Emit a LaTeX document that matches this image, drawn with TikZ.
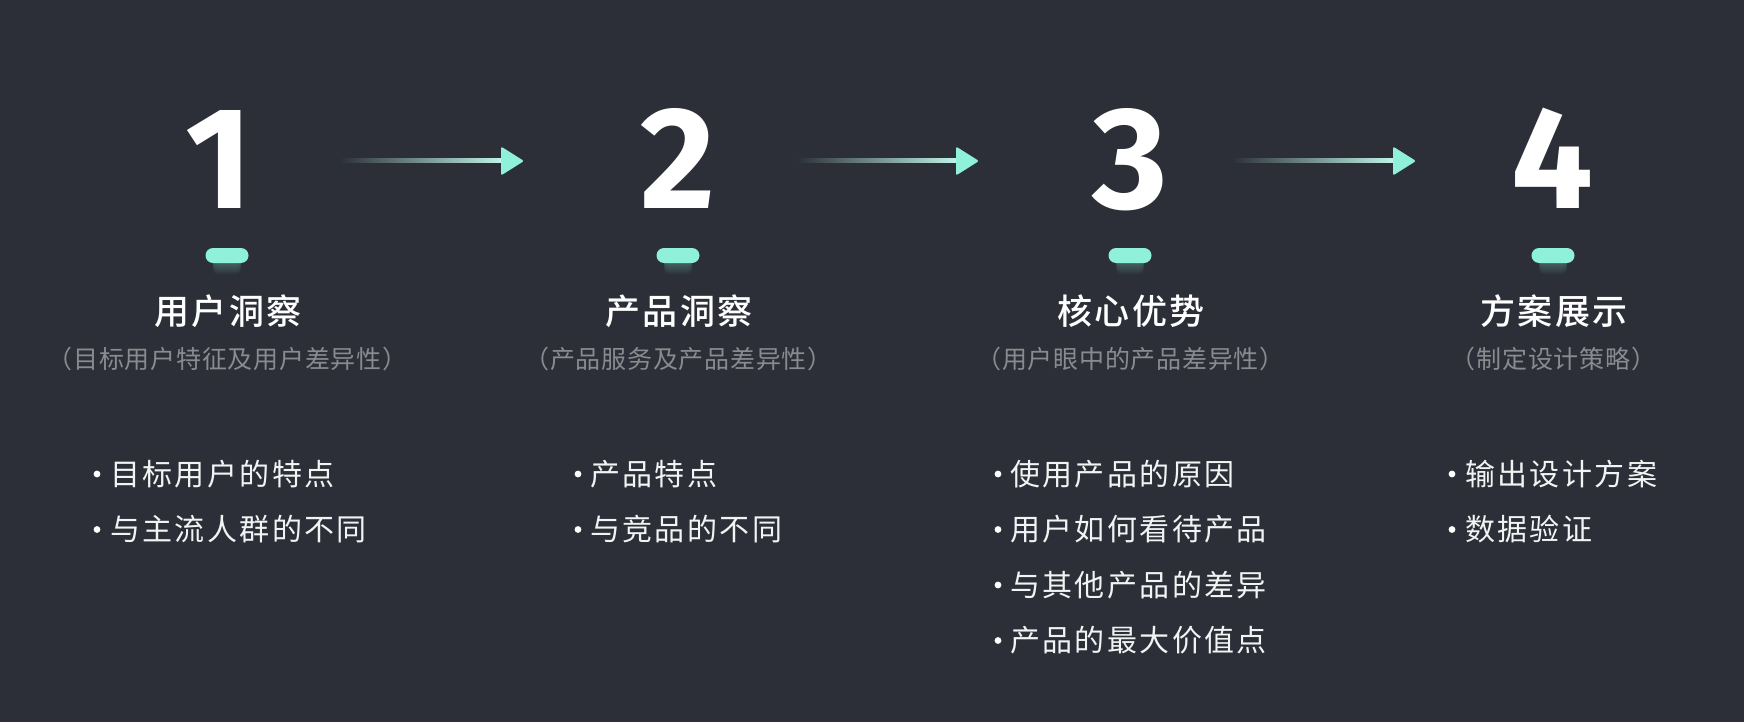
\documentclass[tikz,border=0pt]{standalone}
\usepackage{fontspec}
\usepackage{tikz}
\usetikzlibrary{calc}
\newfontfamily\cjkhead{Noto Sans CJK SC Medium}[LetterSpace=6]
\newfontfamily\cjksub{Noto Sans CJK SC}[LetterSpace=3]
\newfontfamily\cjkitem{Noto Sans CJK SC}[LetterSpace=8]
\newfontfamily\numfont{Fira Sans}
\definecolor{bgdark}{RGB}{44,47,55}
\definecolor{mint}{RGB}{143,240,219}
\definecolor{subgray}{RGB}{138,139,144}
\definecolor{fadegray}{RGB}{150,158,160}

\begin{document}
\begin{tikzpicture}[x=1pt, y=-1pt,
  num/.style={font=\numfont\bfseries\fontsize{145}{145}\selectfont, text=white, inner sep=0pt, anchor=base},
  head/.style={font=\cjkhead\fontsize{35}{35}\selectfont, text=white, inner sep=0pt},
  sub/.style={font=\cjksub\fontsize{25}{25}\selectfont, text=subgray, inner sep=0pt},
  item/.style={font=\cjkitem\fontsize{30}{30}\selectfont, text=white!94!bgdark, inner sep=0pt, anchor=west, text height=25.5pt, text depth=3pt},
  pillbar/.style={fill=mint, rounded corners=7.5pt, minimum width=43pt, minimum height=15pt, inner sep=0pt}]
  \fill[bgdark] (0,0) rectangle (1744,722);
  \foreach \d/\x/\dx/\h/\s in {1/227/-8/用户洞察/（目标用户特征及用户差异性）,
                              2/678/0/产品洞察/（产品服务及产品差异性）,
                              3/1130/0/核心优势/（用户眼中的产品差异性）,
                              4/1553/-1/方案展示/（制定设计策略）} {
    \node[num] (n\d) at (\x+\dx,208) {\d};
    \foreach \k in {6,8,...,18}
      \fill[mint, opacity=0.05, rounded corners=5pt] (\x-14,256) rectangle (\x+14,256+\k);
    \node[pillbar] (m\d) at (\x,255.5) {};
    \node[head] (h\d) at (\x+1,311) {\h};
    \node[sub] (s\d) at (\x+0.5,359) {\s};
  }
  \foreach \i/\s/\e in {1/340/524, 2/797/979, 3/1232/1416} {
    \coordinate (go\i) at (\s,161);
    \coordinate (tip\i) at (\e,161);
    \shade[left color=bgdark, middle color=fadegray, right color=mint!55!white] ($(go\i)+(0,-2)$) rectangle ($(tip\i)+(-20,2)$);
    \fill[mint, rounded corners=2pt] (tip\i) -- ($(tip\i)+(-23,-14.5)$) -- ($(tip\i)+(-23,14.5)$) -- cycle;
  }
  \foreach \t [count=\i] in {目标用户的特点, 与主流人群的不同} {
    \fill[white] (97,474+55.5*\i-55.5) circle (3.4);
    \node[item] (a\i) at (110,474+55.5*\i-55.5) {\t};
  }
  \foreach \t [count=\i] in {产品特点, 与竞品的不同} {
    \fill[white] (578,474+55.5*\i-55.5) circle (3.4);
    \node[item] (b\i) at (590,474+55.5*\i-55.5) {\t};
  }
  \foreach \t [count=\i] in {使用产品的原因, 用户如何看待产品, 与其他产品的差异, 产品的最大价值点} {
    \fill[white] (998,474+55.5*\i-55.5) circle (3.4);
    \node[item] (c\i) at (1010,474+55.5*\i-55.5) {\t};
  }
  \foreach \t [count=\i] in {输出设计方案, 数据验证} {
    \fill[white] (1452,474+55.5*\i-55.5) circle (3.4);
    \node[item] (e\i) at (1465,474+55.5*\i-55.5) {\t};
  }
\end{tikzpicture}
\end{document}
